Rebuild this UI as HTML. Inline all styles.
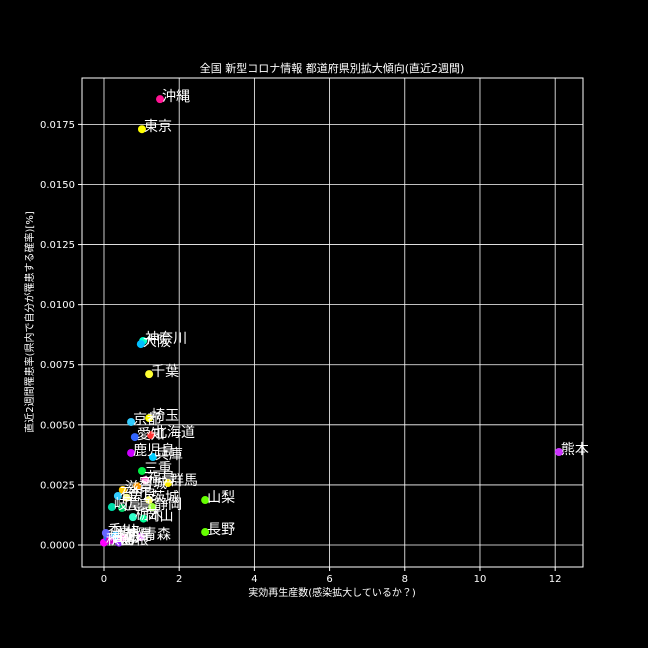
<!DOCTYPE html>
<html><head><meta charset="utf-8">
<style>
body{margin:0;background:#000;}
svg{display:block;font-family:"DejaVu Sans","Noto Sans CJK JP",sans-serif;}
</style></head>
<body>
<svg id="chart" width="648" height="648" xmlns="http://www.w3.org/2000/svg">
<rect width="648" height="648" fill="#000"/>
<text x="332" y="72" fill="#fff" font-size="11" text-anchor="middle">全国 新型コロナ情報 都道府県別拡大傾向(直近2週間)</text>
<g id="grid"></g><g id="axes"></g><g id="points"></g><g id="labels"></g>
<text x="332" y="596" fill="#fff" font-size="10" text-anchor="middle">実効再生産数(感染拡大しているか？)</text>
<text x="0" y="0" transform="translate(33,322) rotate(-90)" fill="#fff" font-size="10" text-anchor="middle">直近2週間罹患率(県内で自分が罹患する確率)[%]</text>
</svg>
<script>
const names=["沖縄","東京","神奈川","大阪","千葉","埼玉","京都","北海道","愛知","兵庫","鹿児島","三重","群馬","宮城","福島","滋賀","茨城","山梨","石川","奈良","岐阜","広島","静岡","栃木","岡山","長野","青森","熊本","秋田","岩手","山形","鳥取","島根","徳島","香川","高知"];
const xVals=[1.49,1.01,1.04,0.98,1.2,1.2,0.72,1.25,0.82,1.3,0.72,1.01,1.7,0.88,1.1,0.5,1.2,2.69,0.37,0.6,0.21,0.48,1.28,0.77,1.05,2.69,0.98,12.1,0.0,0.1,0.2,0.3,0.4,0.5,0.05,0.15];
const yVals=[0.01855,0.0173,0.00849,0.00836,0.00711,0.00528,0.00512,0.00457,0.00449,0.00366,0.00383,0.00308,0.00258,0.00245,0.0027,0.00229,0.00187,0.00187,0.00204,0.00197,0.00158,0.00154,0.00158,0.00116,0.0011,0.00054,0.00033,0.00387,0.0001,0.0003,0.0002,0.0004,0.0001,0.0003,0.0005,0.0002];
const colors=["#ff1493","#ffff00","#00ffcc","#00bfff","#ffff33","#ffff00","#33ccff","#ff3333","#3366ff","#00ccff","#cc00ff","#00ee44","#ffee00","#ff9900","#ff66cc","#ffcc00","#ffff66","#66ff00","#33ccff","#ffff99","#00ddaa","#00cc66","#99ff33","#33ffcc","#00ff99","#66ff00","#cc00ff","#cc33ff","#ff00ff","#3366ff","#ff66ff","#00aaff","#9933ff","#ff33cc","#6666ff","#cc00cc"];
const xTicks=[0,2,4,6,8,10,12];
const yTicks=[0,0.0025,0.005,0.0075,0.01,0.0125,0.015,0.0175];
const yTickLabels=["0.0000","0.0025","0.0050","0.0075","0.0100","0.0125","0.0150","0.0175"];
const L=82,R=583,T=78,B=567;
const xMin=-0.585,xMax=12.74,yMin=-0.000915,yMax=0.01943;
const sx=v=>L+(v-xMin)/(xMax-xMin)*(R-L);
const sy=v=>B-(v-yMin)/(yMax-yMin)*(B-T);
const NS="http://www.w3.org/2000/svg";
function mk(tag,at,parent){const e=document.createElementNS(NS,tag);for(const k in at)e.setAttribute(k,at[k]);document.getElementById(parent).appendChild(e);return e;}
const fr=mk("rect",{x:L,y:T,width:R-L,height:B-T,fill:"none",stroke:"#fff","stroke-width":1},"axes");


xTicks.forEach(t=>{const x=sx(t);
 const g=mk("line",{x1:x,x2:x,y1:T,y2:B,stroke:"#fff","stroke-width":0.8},"grid");
 
 
 mk("line",{x1:x,x2:x,y1:B,y2:B+4,stroke:"#fff"},"axes");
 const tx=mk("text",{x:x,y:B+15,fill:"#fff","font-size":10,"text-anchor":"middle"},"axes");tx.textContent=t;
 
 });
yTicks.forEach((t,i)=>{const y=sy(t);
 const g=mk("line",{x1:L,x2:R,y1:y,y2:y,stroke:"#fff","stroke-width":0.8},"grid");
 
 
 mk("line",{x1:L-4,x2:L,y1:y,y2:y,stroke:"#fff"},"axes");
 const tx=mk("text",{x:L-7,y:y+3.5,fill:"#fff","font-size":10,"text-anchor":"end"},"axes");tx.textContent=yTickLabels[i];
 
 });
names.forEach((n,i)=>{const x=sx(xVals[i]),y=sy(yVals[i]);
 const c=mk("circle",{cx:x,cy:y,r:4,fill:colors[i]},"points");
 
 
 const t=mk("text",{x:x+2,y:y+2,fill:"#fff","font-size":14},"labels");t.textContent=n;
 
 });
</script>
</body></html>
